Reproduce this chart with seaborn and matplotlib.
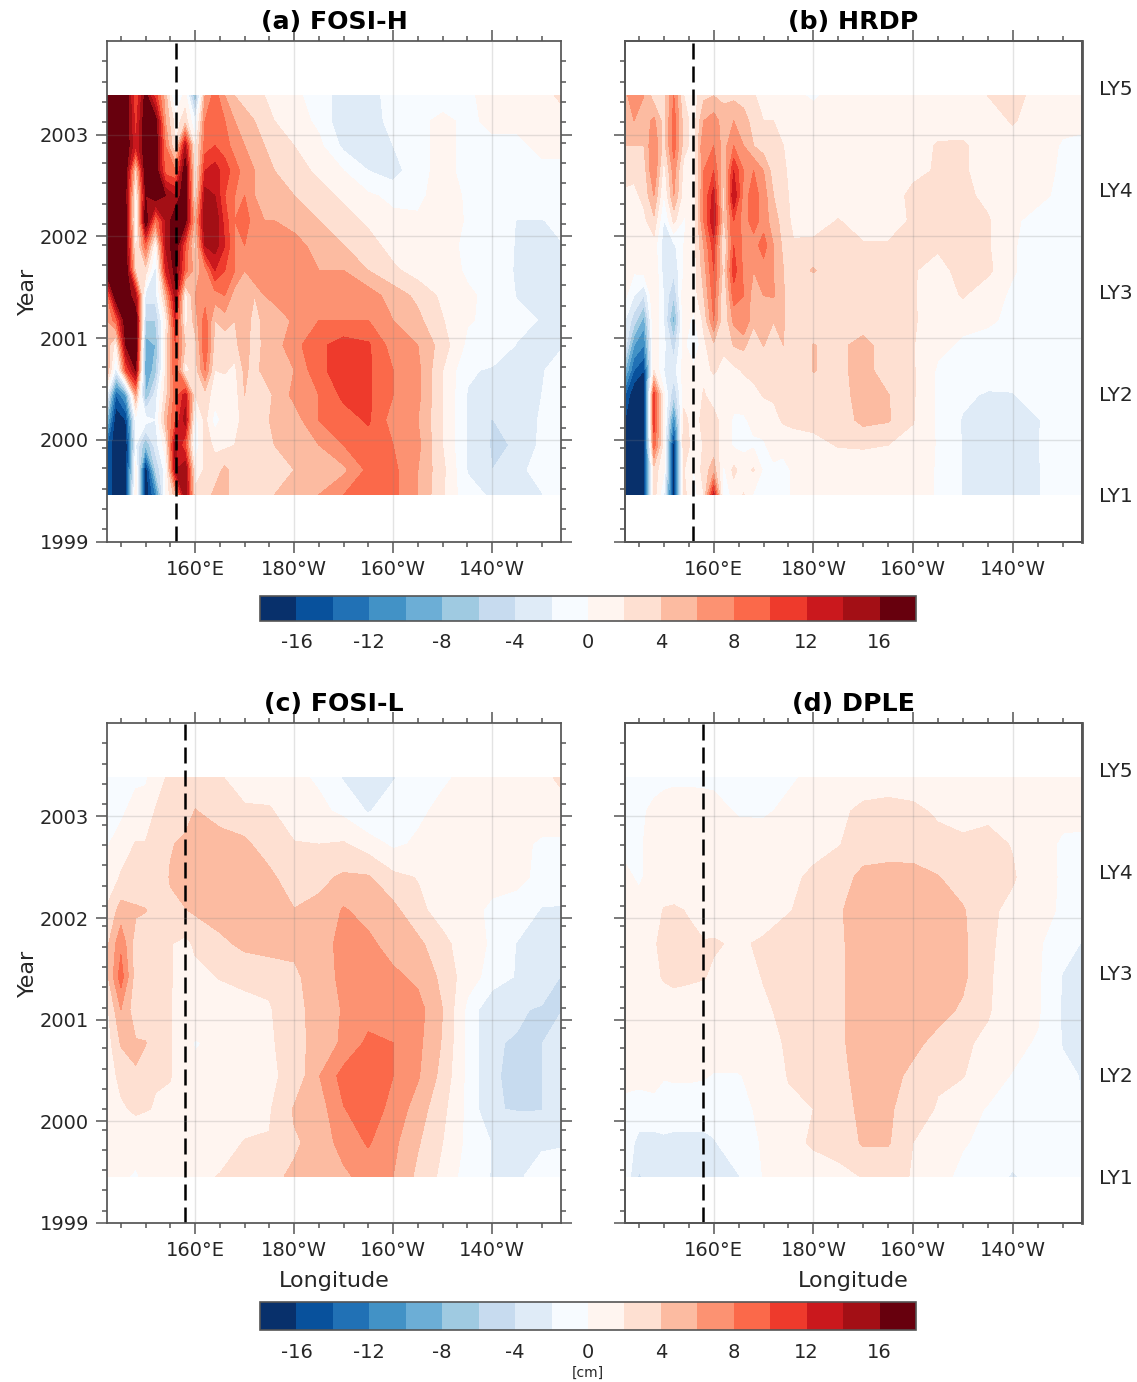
import matplotlib
matplotlib.use("Agg")
import matplotlib.pyplot as plt
import numpy as np
import seaborn as sns
from matplotlib.cm import ScalarMappable
from matplotlib.colors import BoundaryNorm, ListedColormap

# ---------------------------------------------------------------------------
# Values (cm)
# ---------------------------------------------------------------------------

lons_hi = [142.2, 144, 146, 148, 150, 152, 154, 156, 158, 160, 162, 164, 166, 168, 170,
           172, 174, 176, 180, 185, 190, 195, 200, 205, 210, 215, 220, 225, 230, 234]
years_hi = [2003.38, 2003.135, 2002.89, 2002.645, 2002.40, 2002.155, 2001.91, 2001.665, 2001.42,
            2001.175, 2000.93, 2000.685, 2000.44, 2000.195, 1999.95, 1999.705, 1999.46]

fosi_h = [
    [18, 18, 18, 10, 17, 11, 5, -3, 1, -8, 6, 9, 6, 4, 3, 2, 2, 1, 0.5, -1, -3, -3, -1, -0.5, -1, -0.5, 1, 1, 1, 2.5],
    [18, 18, 18, 11, 18, 17, 6, 1, 3, -2, 8, 9, 8, 6, 5, 4, 3, 2, 1, -0.5, -3.5, -3.5, -1, -0.5, 0.5, -0.5, 0.5, 0.5, 0.5, 1],
    [18, 18, 18, 12, 18, 18, 8, 2, 14, 1, 9, 10, 9, 7, 6, 5, 4, 3, 2, 0.5, -2.5, -3.5, -2, -0.5, 0.5, -0.5, -0.5, -0.5, 0.5, 0.5],
    [18, 18, 17, 3, 18, 18, 9, 8, 18, 1, 12, 13, 11, 9, 7, 6, 5, 4, 3, 1.5, 0, -2, -3, -0.5, 0.5, -0.5, -0.5, -0.5, -0.5, -0.5],
    [18, 18, 16, 0, 16, 18, 16, 14, 18, 2, 15, 14, 10, 8, 8, 6, 5, 5, 4, 3, 1.5, 0.3, -0.5, -0.5, 1, -0.3, -0.5, -0.5, -0.5, -0.5],
    [18, 18, 17, -1, 18, 8, 14, 18, 17, 5, 16, 16, 11, 8, 9, 7, 6, 6, 5, 4, 3, 1.5, 0.5, 0.3, 1, -0.2, -0.5, -2.1, -2.1, -1.5],
    [18, 18, 17, 1, 9, 0, 14, 18, 10, 3, 14, 15, 12, 8, 8, 8, 8, 8, 7, 5, 4, 3, 1, 0.5, 0.5, -0.3, -0.5, -2.2, -2.2, -2.1],
    [18, 18, 18, 3, 3, -3, 12, 17, 9, 5, 7, 12, 10, 8, 6, 8, 8, 8, 8, 6, 6, 4, 2.5, 1, 1, -0.3, -0.5, -2.3, -2.2, -4.1],
    [8, 18, 18, 14, -3, -3, 5, 15, 1, 6, 7, 7, 8, 5, 6, 4, 6, 7, 7.5, 8, 8, 7, 5, 3.5, 1.5, 0.3, -0.5, -2.1, -2.1, -4.1],
    [6, 9, 18, 18, -6, -6, 1, 12, 1, 5, 9, 4, 5, 4, 6, 2.5, 5, 4, 6.5, 8, 8, 8, 6, 4.5, 2.1, 0.2, -0.5, -1.5, -2.1, -3],
    [5, 1, 16, 18, -9, -8, 2, 10, 4, 3, 10, 3, 2.5, 3, 6, 2, 5, 5, 7.3, 9.5, 11, 10.3, 7, 6, 3, -0.5, -0.8, -2.1, -2.1, -2.1],
    [6, -3, 10, 16, -10, -7, 2, 10, 1, 3, 8, 2, 2.2, 1.5, 4.5, 3, 5, 5, 6, 9.5, 11, 10.3, 8, 6.5, 2, -1.8, -2.2, -2.2, -2.1, -1.5],
    [-2, -14, -10, 6, -8, -3, 3, 9, 13, 2, 3, 1, 0.8, 1, 4, 3.5, 2.2, 4.5, 6.5, 8, 10.5, 10.3, 8, 6.5, 2, -2.1, -2.4, -2.2, -2, -0.5],
    [-8, -18, -16, -1, -1, -2, 5, 10, 15, -1, 2.5, -1, 1, 1.5, 2.5, 4, 3.5, 4.5, 5, 8, 9, 10.3, 7, 6, 2, -2.2, -4.1, -2.5, -1.9, -0.5],
    [-14, -18, -18, -2, -8, -3, 1, 15, 10, -2, 3, 1.5, 1.5, 2, 3, 3, 3.5, 4, 5, 6, 8, 9, 8, 6.5, 2, -2.2, -4.2, -3.9, -1.5, -0.5],
    [-14, -18, -18, 1, -18, -6, -1, 14, 16, 1, 2.2, 3, 4.5, 3, 2, 3, 2.5, 4, 4, 6, 5.5, 8.5, 8.5, 6, 2.5, -2.1, -4, -2.5, -1.3, -0.5],
    [-14, -18, -18, 1.5, -18, -12, 0, 5, 16, 2.5, 3, 4.5, 5, 2.5, 2, 2.5, 3, 4, 4.5, 6, 8, 9, 8.5, 6, 2.2, -1.5, -2.2, -2.2, -2.1, -0.5],
]

hrdp = [
    [5, 8, 6, 3, 3, 8, 2, 1, 3.5, 4, 3.5, 3.5, 3, 2.2, 1.2, 2, 1.5, 0.5, -0.3, 1, 1, 1, 1, 1, 1, 2, 3, 1, 1, 1],
    [4.5, 6, 5, 6.5, 3, 9, 3, 1, 6, 7, 5, 6, 5, 3, 2, 2, 1.8, 1, 1, 1, 1, 1, 1, 1, 1, 1, 2.2, 1, 0.5, 0.3],
    [4, 4, 4, 8, 3, 9, 3, 0.8, 8, 8, 5, 8, 6, 4, 3, 2.2, 2, 1, 1, 1, 1, 1, 1, 2.2, 2.3, 1, 1, 1, -0.2, -0.3],
    [3, 2.5, 3, 8, 1, 7, 1, 0.5, 8, 10, 4, 12, 8, 8, 6, 3, 2.2, 1.5, 1.5, 1, 1, 1, 1.5, 2.2, 2.3, 1, 1, 0.7, -0.3, -0.3],
    [1.5, 1.5, 2.5, 6, -0.2, 6, 1, 0.8, 8, 13, 3, 14, 7, 9, 7, 4, 2.5, 1.5, 1, 1, 1, 1, 2.5, 2.2, 2.5, 1.5, 0.8, 0.3, -0.3, -0.3],
    [1, 1, 1.5, 3.5, -2.2, 2.5, -0.3, 1, 8, 14, 3.5, 10, 7, 9, 7, 5, 3, 1.5, 1, 2.1, 1, 1, 2.3, 2.2, 2.5, 2.2, 0.2, -0.4, -0.4, -0.4],
    [0.8, 1.5, 2, 1, -3, -2.5, 0, 1, 6, 11, 1.5, 10, 7.5, 7, 9, 6, 3.5, 2.2, 2.5, 2.2, 2.2, 2.2, 2.2, 2.2, 2.4, 2.2, 0.1, -0.5, -0.5, -0.5],
    [0.5, 0.3, 0.8, 2, -3, -3.5, 0, 1, 5, 10, 3, 11, 7.5, 6, 7, 6, 4, 3, 4.2, 2.5, 2.5, 2.5, 2.1, 1.5, 2.5, 2.5, 0.1, -0.5, -0.5, -0.5],
    [0.5, -2, -4, 2, -2.2, -6, 1.8, 1, 4, 9, 2, 9, 8, 5, 6, 6.2, 4.1, 3, 2.2, 2.5, 2.5, 2.5, 2.2, 0.8, 2.2, 0.5, -0.2, -0.5, -0.5, -0.5],
    [-2, -5, -9, 2, -2.1, -9, 1, -0.5, 2.5, 8, 2.2, 6.5, 8, 4.5, 4.5, 4.1, 4.1, 3, 2.5, 2.5, 2.5, 2.3, 2.2, 1, 0.5, 0.2, -0.3, -0.5, -0.5, -0.5],
    [-3, -10, -12, 1.5, -1.5, -5, 0.5, -2, 1.5, 3.5, 2.3, 4.1, 4.5, 2.5, 4.1, 2.5, 4, 2.5, 4.1, 3.3, 5, 2.5, 2.1, 0.5, -0.3, -0.5, -0.5, -0.5, -0.5, -0.5],
    [-8, -14, -16, 2, -2, -3, 1, 0.5, 1.5, 2.2, 1.5, 1.5, 2.2, 2.5, 2.2, 2.5, 2.5, 2.5, 4.1, 3.3, 5, 2.6, 2.2, -0.3, -0.5, -0.6, -0.5, -0.5, -0.5, -0.5],
    [-14, -18, -18, 11, 0.5, -6, 0.8, 0.5, 2.2, 1, 1, 0.8, 1, 1.5, 2.1, 2.2, 2.2, 2.2, 3, 3, 5, 4.1, 2.2, -0.3, -1.5, -2.3, -2.2, -0.5, -0.5, -0.5],
    [-16, -18, -18, 11, 1, -12, 3, 0.5, 3, 2.8, 1, -0.3, -0.3, 0.5, 1, 1.5, 2.2, 2.5, 2.5, 2.8, 4.6, 4.2, 2.1, -0.3, -2.2, -2.3, -2.3, -2.2, -0.4, -0.4],
    [-18, -18, -18, 9, 1, -18, 4, 0.5, 2.2, 3, 1, -0.3, -0.5, -0.3, -0.3, 1, 1, 1, 1.5, 2.1, 2.2, 2, 1.5, -0.2, -2.1, -2.3, -2.5, -2.1, -0.4, -0.4],
    [-18, -18, -18, 3, 0.5, -18, 2.1, -0.2, 3, 5, -0.5, 2.5, 1, 2.2, -0.4, -0.5, -1, 0.5, 1, 1, 1, 1, 1, -0.2, -2.1, -2.2, -3.5, -2.2, -0.4, -0.4],
    [-18, -18, -18, 3, -2, -18, 3, -1, 2, 13, -2, 1, 2.1, -0.3, -2.1, -1, -1.5, 0.5, 1, 1, 1, 0.8, 0.5, -0.1, -2.1, -2.1, -3, -2.2, -0.4, -0.4],
]

lons_lo = [142.2, 145, 148, 150, 152, 155, 158, 160, 165, 170, 175, 180,
           185, 190, 195, 200, 205, 210, 215, 220, 225, 230, 234]
years_lo = [2003.38, 2003.054, 2002.728, 2002.402, 2002.076, 2001.75, 2001.424,
            2001.098, 2000.772, 2000.446, 2000.12, 1999.794, 1999.46]

fosi_l = [
    [-0.5, -0.5, -0.5, -0.3, 1, 2.5, 2.5, 2.5, 2.2, 1, 1, 0.5, -0.3, -2.2, -2.4, -2.2, -0.5, -0.3, 0.5, 1, 1, 1.3, 2.5],
    [-0.5, -0.5, 1, 1, 2.1, 2.6, 3, 4.1, 3, 2.3, 2.2, 1, 0.5, -0.5, -2.2, -0.5, -0.4, 0.5, 1, 1, 1, 1, 1],
    [-0.2, 1, 2.1, 2.1, 2.5, 3.8, 4.5, 5, 5, 4.5, 2.7, 2.1, 2, 2.2, 1, -0.4, 0.3, 1, 1.8, 1, 0.5, -0.3, -0.3],
    [0.5, 2.2, 2.5, 2.3, 2.2, 4.2, 5, 5.5, 5.5, 5.5, 4.6, 2.5, 3.5, 4.3, 4.2, 2.5, 1.9, 1, 1, 0.5, 0.3, -0.3, -0.3],
    [2.3, 4.8, 4.3, 4.1, 2.5, 3.5, 3.9, 4.3, 5, 5, 5, 4.1, 4.5, 6.2, 5.2, 4.6, 2.5, 1.2, 0.5, -0.3, -0.5, -2.2, -2.3],
    [3.5, 7.5, 3, 2.5, 2.6, 2.1, 1.5, 2.3, 3.5, 4.5, 5, 4.5, 5, 6.7, 6.5, 5, 4.5, 2.5, 1, -0.3, -2.1, -2.3, -2.5],
    [3.5, 9, 3, 2.5, 2.6, 2.1, 1.3, 1.5, 2.1, 2.5, 2.5, 3.6, 5, 6.5, 7.2, 6.5, 5.5, 3.5, 0.8, -0.7, -2.2, -2.8, -4.1],
    [1.5, 6, 2.7, 2.4, 2.6, 2.1, 0.8, 1, 1, 1.3, 1.8, 3.5, 4.6, 6.2, 7, 7.5, 6.8, 4, -0.5, -3.9, -3.8, -4.2, -4.1],
    [1, 4.2, 4.2, 4.1, 2.1, 2.1, 0.4, -0.1, 0.3, 1.2, 1.7, 3, 5, 6.3, 8.5, 8, 6.5, 3.8, -0.5, -3.9, -4.1, -4.1, -2.2],
    [1, 2.5, 3.9, 2.8, 2.1, 2.1, 0.5, 0.3, 0.5, 1, 1.7, 2.5, 5.9, 8.8, 9, 8, 6.2, 3.3, -0.5, -3.9, -4.2, -4.1, -2.3],
    [0.8, 1.7, 2.3, 2.1, 1.9, 1.5, 0.8, 1, 1, 1, 1.8, 4.2, 5, 7.9, 9, 7.4, 5, 2.5, -0.5, -3.9, -4.1, -4.1, -2.2],
    [1.3, 0.8, 0.7, 0.6, 0.6, 0.5, 0.6, 0.7, 1, 2.1, 2.1, 3.8, 4.5, 7, 8.2, 6.5, 4.2, 2, -0.5, -2.1, -2.5, -2.2, -2.1],
    [0.6, 0.3, -0.2, 0.4, 0.5, 0.7, 0.8, 1.5, 2.1, 2.2, 3.7, 4.2, 4.4, 5.5, 7, 6, 3.5, 1.5, -1, -2.1, -2.2, -1.5, -1.5],
]

dple = [
    [-0.5, -2.1, -0.5, -0.5, -0.4, -0.4, -0.4, -0.4, -0.4, -0.3, -0.2, 0.3, 0.7, 0.8, 1, 1, 1, 1, 1, 1, 1, 1, 1],
    [-0.4, -0.3, 0.3, 0.8, 1, 1, 0.8, 0.6, -0.2, -0.2, 0.3, 1, 1.5, 2.5, 2.7, 2.4, 1.7, 1, 1.6, 0.7, 0.4, 0.4, 0.3],
    [-0.4, -0.2, 0.5, 0.8, 1, 1, 1, 1, 0.8, 0.7, 1, 1.3, 1.9, 2.8, 3, 2.9, 2.6, 2.5, 2.5, 1.9, 0.6, -0.2, -0.2],
    [0.3, -0.2, 0.5, 1, 1, 1, 1, 1, 1, 1, 1.5, 2.4, 3, 4.6, 4.8, 4.8, 4.1, 3, 2.6, 2.2, 0.7, -0.2, -0.2],
    [0.7, 0.5, 1.3, 2.1, 2.2, 1.9, 1.2, 1, 1, 1, 1.95, 2.3, 3.8, 4.8, 4.9, 4.9, 4.8, 4.2, 2.4, 1.5, 0.5, -0.2, -0.3],
    [0.7, 1, 1.8, 2.5, 2.6, 2.3, 2.1, 2.2, 1.7, 2.3, 2.4, 2.7, 3.7, 4.8, 4.9, 4.9, 4.8, 4.4, 2.3, 1.3, 0.3, -1.3, -2.1],
    [0.6, 0.9, 1.5, 2.2, 2.5, 2.3, 2.1, 1.7, 1.1, 2.1, 2.4, 2.6, 3.7, 4.7, 4.7, 4.7, 4.6, 4.4, 2.2, 1.2, 0.3, -2.1, -2.2],
    [0.6, 0.7, 0.8, 0.9, 1, 1, 1, 1, 1, 1.7, 2.5, 2.6, 3.7, 4.7, 4.7, 4.7, 4.7, 3.7, 2.2, 0.8, 0.3, -2.2, -2.2],
    [0.4, 0.8, 0.8, 0.8, 0.8, 0.8, 0.8, 0.8, 0.9, 1.4, 2.2, 2.6, 3.7, 4.7, 4.7, 4.5, 3.4, 2.3, 1.6, 0.5, -0.2, -2.1, -2.2],
    [0.3, 0.5, 0.8, 0.1, 0.2, 0.2, 0.1, -0.1, -0.1, 0.6, 2.1, 2.5, 3.5, 4.6, 4.7, 3.5, 2.3, 2.1, 0.6, -0.1, -0.4, -1.6, -2.1],
    [-0.3, -0.8, -0.8, -0.8, -0.8, -0.8, -0.8, -0.8, -0.4, 0.3, 1.6, 2, 2.9, 4.6, 4.3, 3, 1.8, 0.5, -0.1, -0.3, -0.4, -0.5, -2.05],
    [-0.8, -2.6, -2.6, -2.4, -2.6, -2.6, -2.6, -2.2, -0.5, 0.1, 1.5, 2.2, 2.4, 4.3, 4.2, 2, 0.7, 0.1, -0.3, -0.4, -0.4, -0.4, -0.4],
    [-0.5, -4.3, -2.3, -2.2, -2.2, -2.2, -2.2, -2.1, -2.1, 0.1, 0.5, 1.3, 1.7, 2.05, 2.5, 1.9, 0.4, -0.3, -0.7, -2.3, -0.8, -0.5, -0.5],
]

levels = list(range(-18, 19, 2))
cbar_ticks = list(range(-16, 17, 4))
major_lons = [160, 180, 200, 220]
lon_labels = ["160°E", "180°W", "160°W", "140°W"]
year_ticks = [1999, 2000, 2001, 2002, 2003]
ly_ticks = [1999.46, 2000.46, 2001.46, 2002.46, 2003.46]
ly_labels = ["LY1", "LY2", "LY3", "LY4", "LY5"]

# ---------------------------------------------------------------------------
# Style
# ---------------------------------------------------------------------------

W, H = 1137, 1382
sns.set_theme(style="ticks", font="DejaVu Sans")
plt.rcParams["axes.unicode_minus"] = False
plt.rcParams["axes.edgecolor"] = "#555555"
plt.rcParams["xtick.color"] = "#555555"
plt.rcParams["ytick.color"] = "#555555"
plt.rcParams["xtick.labelcolor"] = "#262626"
plt.rcParams["ytick.labelcolor"] = "#262626"

blues = sns.color_palette("Blues_r", as_cmap=True)(np.linspace(0, 1, 9))
reds = sns.color_palette("Reds", as_cmap=True)(np.linspace(0, 1, 9))
cmap = ListedColormap(np.vstack([blues, reds]))
cmap.set_over(reds[-1])
cmap.set_under(blues[0])
norm = BoundaryNorm(levels, cmap.N)


def add_axes_px(fig, left, top, right, bottom):
    return fig.add_axes([left / W, 1 - bottom / H, (right - left) / W, (bottom - top) / H])


def draw_panel(fig, box, lons, years, values, title, dash_lon, ylim, left_labels, right_labels, xlabel):
    ax = add_axes_px(fig, *box)
    ax.contourf(lons, years, np.array(values), levels=levels, cmap=cmap, norm=norm, extend="both")

    ax.set_xlim(142.2, 233.9)
    ax.set_ylim(*ylim)
    ax.set_xticks(major_lons, lon_labels)
    ax.set_xticks(np.arange(145, 234, 5), minor=True)
    ax.set_yticks(year_ticks)
    ax.set_yticks(np.arange(1999.12, 2003.9, 0.2), minor=True)
    ax.tick_params(which="major", length=8, width=1.1, top=True, right=True,
                   labelsize=14, pad=5, left=True, bottom=True)
    ax.tick_params(which="minor", length=3.5, width=1.1, top=True, right=True, left=True, bottom=True)
    if not left_labels:
        ax.tick_params(axis="y", labelleft=False)
    ax.grid(True, which="major", color="gray", alpha=0.22, lw=1)
    ax.set_axisbelow(False)
    ax.axvline(dash_lon, color="black", lw=1.8, dashes=(6.4, 2.8))

    ax.set_title(title, fontsize=18.2, fontweight="bold", color="black", pad=9)
    if left_labels:
        ax.set_ylabel("Year", fontsize=16, color="#262626", labelpad=1)
    if xlabel:
        ax.set_xlabel("Longitude", fontsize=16, color="#262626", labelpad=8)

    if right_labels:
        tw = ax.twinx()
        tw.set_ylim(*ylim)
        tw.set_yticks(ly_ticks, ly_labels)
        tw.tick_params(axis="y", length=0, labelsize=14.5, pad=12)
        tw.spines["right"].set_linewidth(2)
    return ax


def draw_colorbar(fig, box):
    cax = add_axes_px(fig, *box)
    cb = fig.colorbar(ScalarMappable(norm=norm, cmap=cmap), cax=cax, orientation="horizontal",
                      extend="neither", ticks=cbar_ticks)
    cb.ax.tick_params(direction="in", length=6, width=1.1, labelsize=14, pad=9)
    cb.ax.minorticks_off()
    cb.outline.set_edgecolor("#555555")
    cb.outline.set_linewidth(1.2)
    return cb


# ---------------------------------------------------------------------------
# Main
# ---------------------------------------------------------------------------

fig = plt.figure(figsize=(W / 100, H / 100), dpi=100)
ylim = (1999, 2003.92)

draw_panel(fig, (107, 41, 561, 541.7), lons_hi, years_hi, fosi_h, "(a) FOSI-H", 156.1, ylim, True, False, False)
draw_panel(fig, (625, 41, 1082, 541.7), lons_hi, years_hi, hrdp, "(b) HRDP", 155.9, ylim, False, True, False)
draw_panel(fig, (107, 723, 561, 1223), lons_lo, years_lo, fosi_l, "(c) FOSI-L", 158.0, ylim, True, False, True)
draw_panel(fig, (625, 723, 1082, 1223), lons_lo, years_lo, dple, "(d) DPLE", 157.95, ylim, False, True, True)

draw_colorbar(fig, (260, 595.5, 916, 621))
draw_colorbar(fig, (260, 1302, 916, 1330))
fig.text(588 / W, 1 - 1373 / H, "[cm]", ha="center", va="center", fontsize=10, color="#262626")

fig.savefig("out.png", dpi=100)
plt.close(fig)
